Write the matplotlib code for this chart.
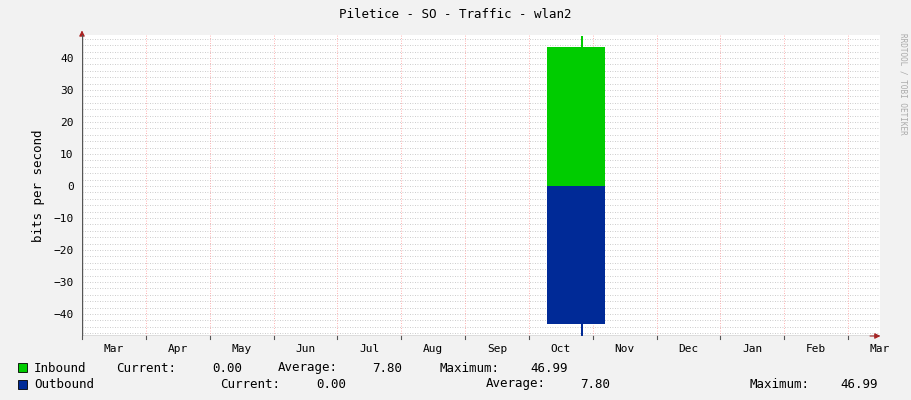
import numpy as np
import matplotlib
matplotlib.use('Agg')
import matplotlib.pyplot as plt

# x in months, 0 = start of April
months = ['Mar', 'Apr', 'May', 'Jun', 'Jul', 'Aug', 'Sep', 'Oct', 'Nov', 'Dec', 'Jan', 'Feb', 'Mar']
month_centers = np.arange(-0.5, 12, 1.0)
month_starts = np.arange(0, 12, 1)

t = [6.28, 6.81, 6.81, 6.85, 6.85, 7.19]
inbound = [43.3, 43.3, 47.0, 47.0, 43.3, 43.3]
outbound = [43.3, 43.3, 47.0, 47.0, 43.3, 43.3]

plt.rcParams['font.family'] = 'DejaVu Sans Mono'
plt.rcParams['font.size'] = 8

fig = plt.figure(figsize=(9.11, 4.0), dpi=100, facecolor='#f2f2f2')
ax = fig.add_axes([0.09, 0.16, 0.876, 0.7525])
ax.set_facecolor('white')

ax.fill_between(t, 0, inbound, color='#00cc00', linewidth=0, zorder=3)
ax.fill_between(t, 0, -np.array(outbound), color='#002a97', linewidth=0, zorder=3)

ax.set_xlim(-1.0, 11.47)
ax.set_ylim(-46.9, 47.2)

for y in np.arange(-46, 47, 2):
    ax.axhline(y, color='#bbbbbb', lw=0.6, ls=(0, (1, 2)), zorder=1)
for x in month_starts:
    ax.axvline(x, color='#ff9999', lw=0.6, ls=(0, (1, 2)), zorder=1)

ax.set_xticks(month_centers)
ax.set_xticklabels(months)
ax.set_yticks(np.arange(-40, 41, 10))
ax.tick_params(length=0, pad=6, colors='black')
for s in ax.spines.values():
    s.set_visible(False)
ax.axhline(-46.9, color='#555555', lw=1, zorder=4)
ax.axvline(-1.0, color='#555555', lw=1, zorder=4)
ax.annotate('', xy=(11.55, -46.9), xytext=(11.3, -46.9), xycoords='data',
            arrowprops=dict(arrowstyle='-|>', color='#aa2222', lw=0.8), annotation_clip=False)
ax.annotate('', xy=(-1.0, 49.5), xytext=(-1.0, 46.5), xycoords='data',
            arrowprops=dict(arrowstyle='-|>', color='#aa2222', lw=0.8), annotation_clip=False)
for x in np.arange(-1, 12, 1):
    ax.plot([x, x], [-46.9, -47.9], color='#555555', lw=0.8, clip_on=False)

ax.set_ylabel('bits per second', fontsize=9, labelpad=6)
fig.text(0.5, 0.965, 'Piletice - SO - Traffic - wlan2', ha='center', va='center', fontsize=9)
fig.text(0.991, 0.79, 'RRDTOOL / TOBI OETIKER', rotation=270, ha='center', va='center',
         fontsize=5.5, color='#aaaaaa')

# legend
fig.patches.append(plt.Rectangle((18 / 911, 1 - 372 / 400), 9 / 911, 9 / 400,
                                 transform=fig.transFigure, facecolor='#00cc00', edgecolor='black', lw=0.6))
fig.patches.append(plt.Rectangle((18 / 911, 1 - 389 / 400), 9 / 911, 9 / 400,
                                 transform=fig.transFigure, facecolor='#002a97', edgecolor='black', lw=0.6))
row1 = [(34, 'Inbound'), (116, 'Current:'), (212, '0.00'), (278, 'Average:'), (372, '7.80'), (440, 'Maximum:'), (530, '46.99')]
row2 = [(34, 'Outbound'), (220, 'Current:'), (316, '0.00'), (486, 'Average:'), (580, '7.80'), (750, 'Maximum:'), (840, '46.99')]
for px, s in row1:
    fig.text(px / 911, 1 - 368 / 400, s, va='center', fontsize=9)
for px, s in row2:
    fig.text(px / 911, 1 - 384 / 400, s, va='center', fontsize=9)

fig.savefig('out.png', dpi=100, facecolor=fig.get_facecolor())
